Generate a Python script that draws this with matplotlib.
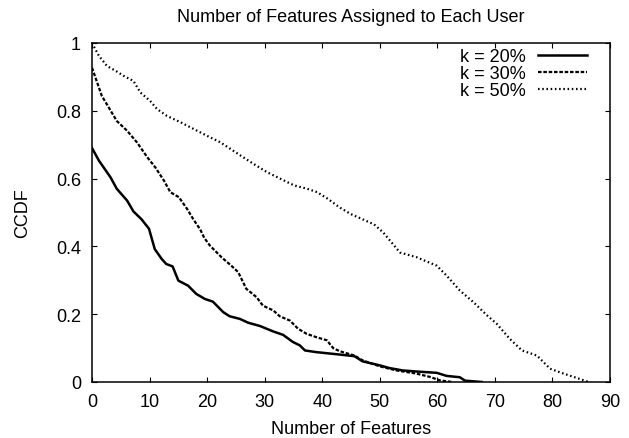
import matplotlib
matplotlib.use("Agg")
import matplotlib.pyplot as plt
from matplotlib.ticker import FuncFormatter

plt.rcParams['font.family'] = ['Liberation Sans', 'DejaVu Sans']

# CCDF curves
x_k20 = [0, 1.2, 3.2, 4.3, 6.1, 7.2, 8.6, 9.9, 10.9, 12.1, 12.9, 14, 15, 16.7,
         18.1, 19.6, 21, 22.8, 23.9, 25.7, 27.1, 29.2, 31.5, 33.2, 34.9, 36.1,
         37, 39, 43, 45.6, 47, 50, 51.7, 54, 56.3, 59.9, 61.6, 63.9, 64.8, 67.7]
y_k20 = [0.69, 0.653, 0.604, 0.57, 0.535, 0.503, 0.48, 0.452, 0.392, 0.363,
         0.348, 0.341, 0.299, 0.284, 0.26, 0.245, 0.237, 0.206, 0.194, 0.186,
         0.175, 0.165, 0.149, 0.139, 0.118, 0.108, 0.093, 0.088, 0.081, 0.076,
         0.061, 0.049, 0.041, 0.034, 0.031, 0.027, 0.018, 0.014, 0.004, 0.0]

x_k30 = [0, 0.9, 1.7, 2.9, 4.3, 6.1, 7.8, 9.6, 11, 12.5, 13.6, 15.1, 16.5,
         17.6, 18.8, 19.5, 20.5, 22.5, 24.2, 25.4, 26.8, 28.6, 29.7, 31.5,
         32.6, 34.4, 35.8, 37.3, 39, 40.8, 41.9, 43, 45.6, 47, 50, 52.9, 56.3,
         58.7, 60.4, 62.5]
y_k30 = [0.927, 0.883, 0.844, 0.81, 0.77, 0.741, 0.707, 0.663, 0.633, 0.594,
         0.56, 0.545, 0.511, 0.48, 0.45, 0.425, 0.402, 0.368, 0.343, 0.324,
         0.275, 0.25, 0.225, 0.211, 0.194, 0.181, 0.157, 0.142, 0.132, 0.123,
         0.1, 0.091, 0.078, 0.064, 0.046, 0.034, 0.025, 0.015, 0.005, 0.0]

x_k50 = [0, 1.2, 2.6, 4.1, 5.5, 7.2, 8.4, 10.1, 11.3, 13, 15.4, 17.7, 20, 22.3,
         24.1, 25.8, 28.1, 30.4, 32.8, 35.1, 37.4, 39.1, 41, 43, 45, 47, 49,
         50.6, 53.5, 56.4, 59.9, 61.6, 63.9, 66.3, 68.6, 70.3, 72.6, 74.7,
         77.3, 79.6, 81.9, 84.2, 86.3]
y_k50 = [1.0, 0.962, 0.932, 0.918, 0.903, 0.888, 0.854, 0.829, 0.805, 0.785,
         0.766, 0.746, 0.726, 0.707, 0.687, 0.668, 0.643, 0.619, 0.599, 0.58,
         0.57, 0.56, 0.54, 0.515, 0.495, 0.48, 0.465, 0.441, 0.382, 0.368,
         0.343, 0.314, 0.27, 0.235, 0.197, 0.172, 0.127, 0.093, 0.078, 0.039,
         0.025, 0.012, 0.0]

fig = plt.figure(figsize=(6.29, 4.39), dpi=100)
ax = fig.add_axes([0.1463, 0.1276, 0.8235, 0.7722])

ax.plot(x_k20, y_k20, color='black', lw=1.8, label='k = 20%')
ax.plot(x_k30, y_k30, color='black', lw=1.6, dashes=(1.6, 0.8), label='k = 30%')
ax.plot(x_k50, y_k50, color='black', lw=1.6, dashes=(0.7, 1.2), label='k = 50%')

ax.set_xlim(0, 90)
ax.set_ylim(0, 1)
ax.set_xticks(range(0, 91, 10))
ax.set_yticks([0, 0.2, 0.4, 0.6, 0.8, 1.0])
ax.yaxis.set_major_formatter(FuncFormatter(lambda v, p: '%g' % v))
ax.tick_params(direction='in', top=True, right=True, length=3.6, width=0.8,
               labelsize=13, pad=8)
for s in ax.spines.values():
    s.set_linewidth(1.1)

ax.set_title('Number of Features Assigned to Each User', fontsize=13, pad=16)
ax.set_xlabel('Number of Features', fontsize=13, labelpad=7)
ax.set_ylabel('CCDF', fontsize=13, labelpad=18)

ax.legend(loc='upper right', frameon=False, markerfirst=False, fontsize=13,
          handlelength=2.7, handletextpad=0.7, labelspacing=0.0,
          borderaxespad=0.0, borderpad=0.0,
          bbox_to_anchor=(1 - 23 / 518, 1 - 5 / 339))

fig.savefig('out.png', dpi=100)
